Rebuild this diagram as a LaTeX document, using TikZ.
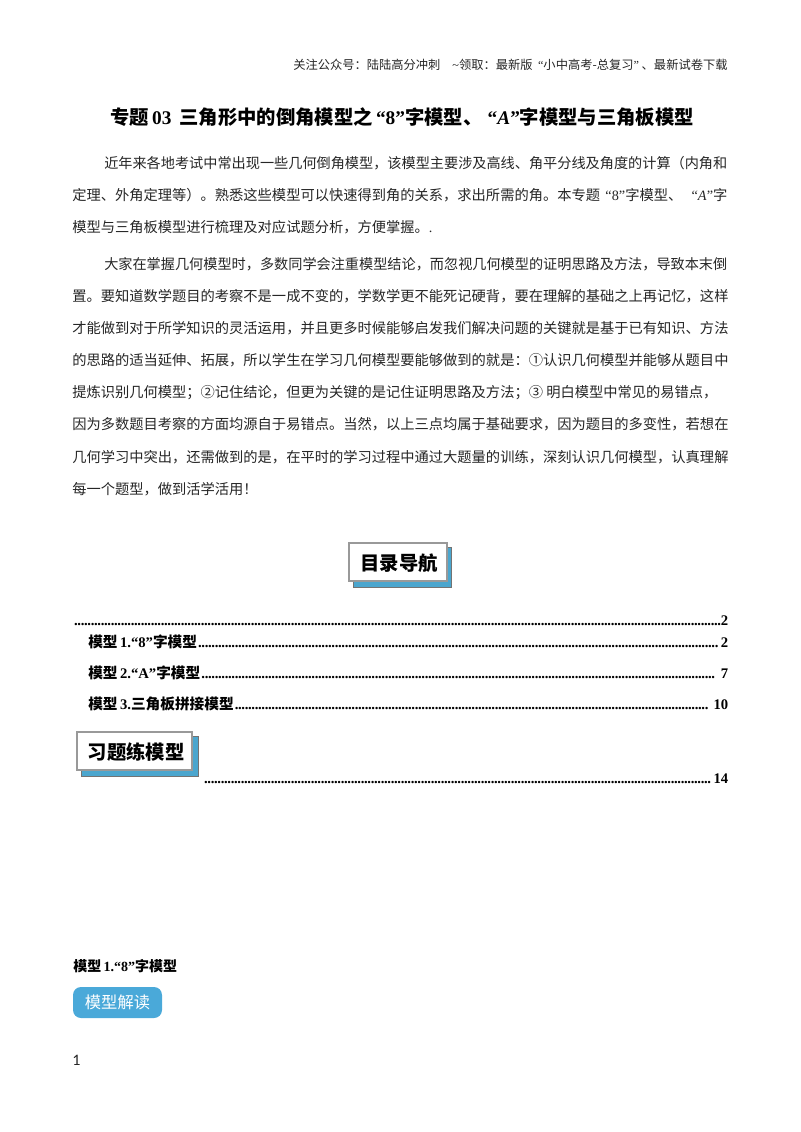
\documentclass[tikz,border=0pt]{standalone}
\usepackage{fontspec}
\setmainfont{Noto Sans CJK SC}
\newfontfamily\latinpart{Liberation Serif}
\newfontfamily\pagefont{Carlito}
\newcommand\lat[1]{{\latinpart #1}}
\newcommand\tocdots{\leaders\hbox to 2.5pt{\hss.\hss}\hfill}
\definecolor{tabblue}{HTML}{4BA6CE}
\definecolor{btnblue}{HTML}{4AA9D9}
\tikzset{
	bodyline/.style={anchor=base west, inner sep=0pt, font=\fontsize{10.7pt}{12pt}\selectfont, text=black!85},
	leadline/.style={bodyline, font=\fontsize{10.62pt}{12pt}\selectfont},
	tocrow/.style={anchor=base west, inner sep=0pt, font=\fontsize{11pt}{11pt}\selectfont\bfseries},
	tabbox/.style={anchor=center, inner sep=0pt, font=\fontsize{14.5pt}{14.5pt}\selectfont\bfseries}
}

\begin{document}
\begin{tikzpicture}[x=0.75pt, y=-0.75pt]
			\useasboundingbox[fill=white] (0, 0) rectangle (800, 1132);
			%%%%% HEADER %%%%%
			
			\node[bodyline, font=\fontsize{9.2pt}{10pt}\selectfont] (hdrline) at (293, 69.5) {关注公众号：陆陆高分冲刺\kern9pt\lat{\textasciitilde}领取：最新版\kern4pt\lat{“}小中高考-总复习\lat{”}\kern2pt、最新试卷下载};
			\node[bodyline, font=\fontsize{14.5pt}{15pt}\selectfont\bfseries, text=black] (titleline) at (110, 124) {专题\,\lat{03}\kern6pt 三角形中的倒角模型之\,\lat{“8”}字模型、\kern4pt\lat{“\textit{A}”}字模型与三角板模型};
			
			%%%%% FIRST PARAGRAPH %%%%%
			
			\node[leadline] (introa) at (104, 168) {近年来各地考试中常出现一些几何倒角模型，该模型主要涉及高线、角平分线及角度的计算（内角和};
			\node[bodyline] (introb) at (72, 200) {定理、外角定理等）。熟悉这些模型可以快速得到角的关系，求出所需的角。本专题\kern4pt\lat{“8”}字模型、\kern7pt\lat{“\textit{A}”}字};
			\node[bodyline] (introc) at (72, 232) {模型与三角板模型进行梳理及对应试题分析，方便掌握。\lat{.}};
			
			%%%%% SECOND PARAGRAPH %%%%%
			
			\node[leadline] (parta) at (104, 269) {大家在掌握几何模型时，多数同学会注重模型结论，而忽视几何模型的证明思路及方法，导致本末倒};
			\node[bodyline] (partb) at (72, 301) {置。要知道数学题目的考察不是一成不变的，学数学更不能死记硬背，要在理解的基础之上再记忆，这样};
			\node[bodyline] (partc) at (72, 333) {才能做到对于所学知识的灵活运用，并且更多时候能够启发我们解决问题的关键就是基于已有知识、方法};
			\node[bodyline] (partd) at (72, 365) {的思路的适当延伸、拓展，所以学生在学习几何模型要能够做到的就是：①认识几何模型并能够从题目中};
			\node[bodyline] (parte) at (72, 397) {提炼识别几何模型；②记住结论，但更为关键的是记住证明思路及方法；③ 明白模型中常见的易错点，};
			\node[bodyline] (partf) at (72, 429.5) {因为多数题目考察的方面均源自于易错点。当然，以上三点均属于基础要求，因为题目的多变性，若想在};
			\node[bodyline] (partg) at (72, 462) {几何学习中突出，还需做到的是，在平时的学习过程中通过大题量的训练，深刻认识几何模型，认真理解};
			\node[bodyline] (parth) at (72, 494.5) {每一个题型，做到活学活用！};
			
			%%%%% CONTENTS %%%%%
			
			\draw[fill=tabblue, draw=black!55, line width=0.4pt] (353, 547) rectangle (451, 587);
			\draw[fill=white, draw=black!40, line width=1pt] (349, 543) rectangle (447, 581);
			\node[tabbox] (tabguide) at (399, 563) {目录导航};
			
			\node[tocrow] (tocfirst) at (74, 625) {\hbox to 490.5pt{\lat{\tocdots 2}}};
			\node[tocrow] (tocmodela) at (88, 647) {\hbox to 480pt{模型\,\lat{1.“8”}字模型\lat{\tocdots 2}}};
			\node[tocrow] (tocmodelb) at (88, 678) {\hbox to 480pt{模型\,\lat{2.“A”}字模型\lat{\tocdots\ 7}}};
			\node[tocrow] (tocmodelc) at (88, 709) {\hbox to 480pt{模型\,\lat{3.}三角板拼接模型\lat{\tocdots\ 10}}};
			
			\draw[fill=tabblue, draw=black!55, line width=0.4pt] (81, 736) rectangle (198, 776);
			\draw[fill=white, draw=black!40, line width=1pt] (77, 732) rectangle (192, 770);
			\node[tabbox] (tabdrill) at (136, 752) {习题练模型};
			
			\node[tocrow] (toclast) at (204, 783) {\hbox to 393pt{\lat{\tocdots 14}}};
			
			%%%%% FOOT OF PAGE %%%%%
			
			\node[tocrow, font=\fontsize{10.5pt}{11pt}\selectfont\bfseries] (modelhead) at (73, 971) {模型\,\lat{1.“8”}字模型};
			\draw[fill=btnblue, draw=none, rounded corners=6] (73, 987) rectangle (162, 1018);
			\node[tabbox, font=\fontsize{12.2pt}{12.2pt}\selectfont, text=white] (btnread) at (117.5, 1002.5) {模型解读};
			\node[bodyline, font=\fontsize{12pt}{12pt}\pagefont] (pagenum) at (72, 1065) {1};
			
			%%%%% END %%%%%
\end{tikzpicture}
\end{document}
